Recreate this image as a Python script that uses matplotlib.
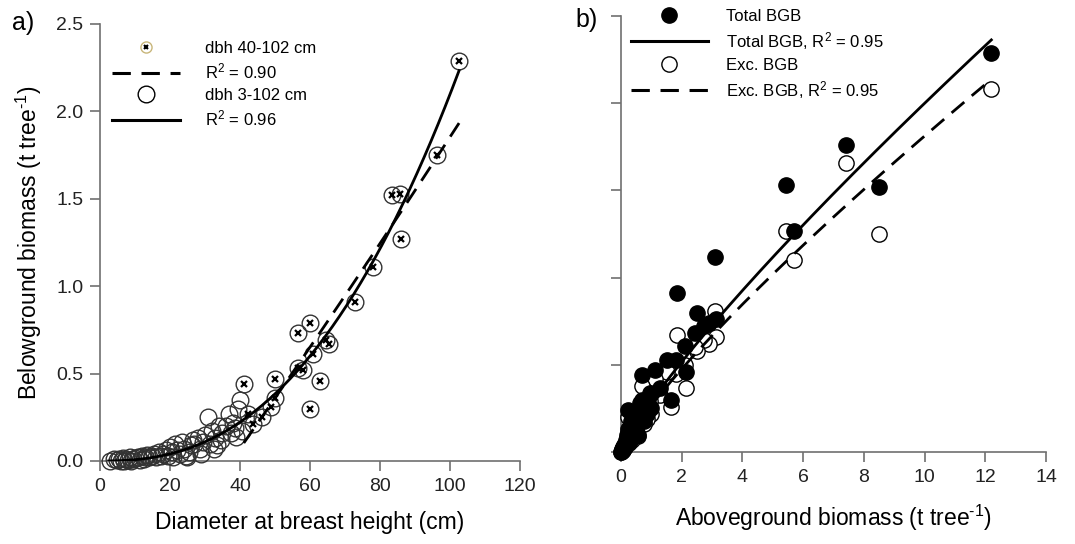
import numpy as np
import matplotlib
matplotlib.use('Agg')
from matplotlib import pyplot as plt
from matplotlib.lines import Line2D
from matplotlib.legend_handler import HandlerTuple

plt.rcParams['font.family'] = ['Liberation Sans', 'DejaVu Sans']
plt.rcParams['mathtext.fontset'] = 'custom'
plt.rcParams['mathtext.rm'] = 'Liberation Sans'
plt.rcParams['mathtext.it'] = 'Liberation Sans:italic'

# panel a: all trees (dbh 3-102 cm)
small_dbh = [3, 4, 5, 5.5, 6, 6.5, 7, 7.5, 8, 8.5, 9, 9.5, 10, 11, 11.5, 12, 12.5, 13,
             13.5, 14, 15, 15.5, 16, 17, 17.5, 18, 19, 19.5, 20, 20.5, 21, 21.5, 22, 23,
             23.5, 24, 24.5, 25, 25.5, 26, 26.5, 27, 28, 28.5, 29, 29.5, 30, 30.8, 31.5,
             32, 32.5, 33, 33.5, 34, 34.5, 35, 36, 37, 37.5, 38, 38.5, 39, 39.5, 40, 40.5]
small_bgb = [0.0, 0.01, 0.005, 0.01, 0.0, 0.015, 0.0, 0.01, 0.005, 0.02, 0.0, 0.01, 0.015,
             0.02, 0.005, 0.03, 0.01, 0.02, 0.035, 0.02, 0.03, 0.04, 0.02, 0.05, 0.03, 0.04,
             0.06, 0.03, 0.08, 0.05, 0.02, 0.10, 0.06, 0.04, 0.11, 0.07, 0.03, 0.02, 0.05,
             0.09, 0.12, 0.10, 0.13, 0.07, 0.04, 0.11, 0.15, 0.25, 0.10, 0.17, 0.07, 0.13,
             0.09, 0.20, 0.12, 0.16, 0.20, 0.27, 0.16, 0.22, 0.19, 0.14, 0.30, 0.35, 0.17]
large_dbh = [102.6, 96.2, 83.5, 85.7, 86.0, 78.0, 73.0, 60.1, 56.7, 63.0, 60.1, 50.0, 41.1,
             64.5, 65.5, 61.0, 56.7, 58.0, 49.0, 50.0, 46.3, 42.4, 43.8]
large_bgb = [2.29, 1.75, 1.52, 1.53, 1.27, 1.11, 0.91, 0.79, 0.73, 0.46, 0.30, 0.47, 0.44,
             0.69, 0.67, 0.61, 0.53, 0.52, 0.31, 0.36, 0.25, 0.27, 0.21]

# fitted models
fit_all = (0.6 / 60 ** 2.45, 2.45)          # power fit, dbh 3-102
fit_large = (-1.042, 0.0271, 0.0000185)     # dbh 40-102

# panel b: aboveground vs belowground biomass
agb = [12.2, 8.5, 7.42, 5.7, 5.45, 3.1, 3.12, 2.9, 2.75, 2.5, 2.45, 2.1, 2.15, 1.85, 1.8,
       1.5, 1.65, 1.28, 1.12, 0.95, 0.68, 0.63, 0.24, 1.0, 0.85, 0.75, 0.6, 0.5, 0.55,
       0.4, 0.45, 0.35, 0.3, 0.25, 0.2, 0.18, 0.15, 0.12, 0.1, 0.08, 0.06, 0.05, 0.03,
       0.02, 0.01, 0.7, 0.9, 0.42, 0.32, 0.22]
total_bgb = [2.29, 1.52, 1.76, 1.27, 1.53, 1.12, 0.76, 0.74, 0.72, 0.80, 0.68, 0.61, 0.46,
             0.91, 0.53, 0.53, 0.30, 0.37, 0.47, 0.34, 0.44, 0.28, 0.24, 0.25, 0.22, 0.18,
             0.20, 0.15, 0.10, 0.12, 0.17, 0.08, 0.14, 0.06, 0.10, 0.05, 0.07, 0.03, 0.04,
             0.02, 0.03, 0.01, 0.015, 0.005, 0.0, 0.30, 0.28, 0.22, 0.18, 0.13]
exc_bgb = [2.08, 1.25, 1.66, 1.10, 1.27, 0.81, 0.66, 0.62, 0.64, 0.58, 0.60, 0.50, 0.37,
           0.67, 0.45, 0.46, 0.26, 0.33, 0.42, 0.29, 0.38, 0.24, 0.20, 0.22, 0.19, 0.16,
           0.17, 0.13, 0.09, 0.10, 0.15, 0.07, 0.12, 0.05, 0.08, 0.04, 0.06, 0.03, 0.035,
           0.02, 0.025, 0.01, 0.012, 0.005, 0.0, 0.27, 0.25, 0.19, 0.16, 0.11]
fit_total = (0.289, 0.84)
fit_exc = (0.268, 0.83)

gray = '#707070'
dash = (0, (6, 3.5))

fig = plt.figure(figsize=(10.75, 5.44), dpi=100)
ax1 = fig.add_axes([0.093, 0.1526, 0.3907, 0.8033])
ax2 = fig.add_axes([0.5777, 0.169, 0.3953, 0.8016])

for ax in (ax1, ax2):
    for s in ('top', 'right'):
        ax.spines[s].set_visible(False)
    for s in ('left', 'bottom'):
        ax.spines[s].set_color(gray)
        ax.spines[s].set_linewidth(1.2)
    ax.tick_params(direction='out', length=7, width=1.2, color=gray,
                   labelsize=14, labelcolor='#222222', pad=5)
    ax.set_ylim(0, 2.5)
    ax.set_yticks([0, 0.5, 1.0, 1.5, 2.0, 2.5])

# ---- a)
ax1.plot(small_dbh + large_dbh, small_bgb + large_bgb, 'o', ms=12, mfc='none',
         mec='#333333', mew=1.0, clip_on=False, zorder=3)
ax1.plot(large_dbh, large_bgb, 'x', ms=4, mec='black', mew=1.6, clip_on=False, zorder=4)
d = np.linspace(min(large_dbh + small_dbh) - 0.5, max(large_dbh), 200)
ax1.plot(d, fit_all[0] * d ** fit_all[1], color='black', lw=2, zorder=5)
d2 = np.linspace(min(large_dbh), max(large_dbh), 200)
ax1.plot(d2, fit_large[0] + fit_large[1] * d2 + fit_large[2] * d2 ** 2, color='black',
         lw=2, linestyle=dash, zorder=5)
ax1.set_xlim(0, 120)
ax1.set_xticks(range(0, 121, 20))
ax1.set_yticklabels(['0.0', '0.5', '1.0', '1.5', '2.0', '2.5'])
ax1.set_xlabel('Diameter at breast height (cm)', fontsize=16.5, labelpad=12)
ax1.set_ylabel(r'Belowground biomass (t tree$^{\text{-1}}$)', fontsize=16.5, labelpad=9)

h1 = (Line2D([], [], ls='none', marker='o', ms=8, mfc='white', mec='#c8b67a', mew=1.0),
      Line2D([], [], ls='none', marker='x', ms=3.5, mec='black', mew=1.5))
h2 = Line2D([], [], color='black', lw=2.2, ls=dash)
h3 = Line2D([], [], ls='none', marker='o', ms=12, mfc='none', mec='black', mew=1.0)
h4 = Line2D([], [], color='black', lw=2.2)
fig.legend([h1, h2, h3, h4], ['dbh 40-102 cm', 'R$^2$ = 0.90', 'dbh 3-102 cm', 'R$^2$ = 0.96'],
           handler_map={tuple: HandlerTuple(ndivide=1, pad=0)},
           loc='upper left', bbox_to_anchor=(112 / 1075, 1 - 41 / 544), frameon=False,
           fontsize=12, handlelength=4.1, handletextpad=1.5, labelspacing=0.36,
           borderpad=0, borderaxespad=0)

fig.text(12 / 1075, 1 - 23 / 544, 'a)', fontsize=18, va='center', ha='left')

# ---- b)
ax2.plot(agb, exc_bgb, 'o', ms=11, mfc='white', mec='black', mew=1.0, clip_on=False, zorder=3)
ax2.plot(agb, total_bgb, 'o', ms=11, mfc='black', mec='black', clip_on=False, zorder=4)
a = np.linspace(0.005, max(agb), 300)
ax2.plot(a, fit_total[0] * a ** fit_total[1], color='black', lw=2, zorder=5)
ax2.plot(a, fit_exc[0] * a ** fit_exc[1], color='black', lw=2, ls=dash, zorder=5)
ax2.set_xlim(0, 14)
ax2.set_xticks(range(0, 15, 2))
ax2.set_yticklabels([])
ax2.set_xlabel(r'Aboveground biomass (t tree$^{\text{-1}}$)', fontsize=16.5, labelpad=12)

g1 = Line2D([], [], ls='none', marker='o', ms=11, mfc='black', mec='black')
g2 = Line2D([], [], color='black', lw=2.2)
g3 = Line2D([], [], ls='none', marker='o', ms=11, mfc='white', mec='black', mew=1.0)
g4 = Line2D([], [], color='black', lw=2.2, ls=dash)
fig.legend([g1, g2, g3, g4], ['Total BGB', 'Total BGB, R$^2$ = 0.95', 'Exc. BGB',
                              'Exc. BGB, R$^2$ = 0.95'],
           loc='upper left', bbox_to_anchor=(631 / 1075, 1 - 9 / 544), frameon=False,
           fontsize=12, handlelength=4.6, handletextpad=1.1, labelspacing=0.36,
           borderpad=0, borderaxespad=0)

fig.text(575 / 1075, 1 - 20 / 544, 'b)', fontsize=18, va='center', ha='left')

fig.savefig('out.png', dpi=100)
